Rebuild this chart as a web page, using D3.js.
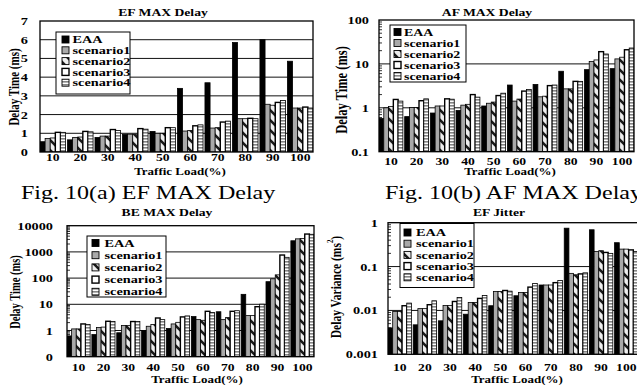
<!DOCTYPE html>
<html><head><meta charset="utf-8">
<script src="https://cdn.jsdelivr.net/npm/d3@7"></script>
<style>body{margin:0;background:#fff}svg{display:block}</style>
</head><body><svg id="c" width="637" height="385"></svg>
<script>
const loads = ["10","20","30","40","50","60","70","80","90","100"];
const seriesNames = ["EAA","scenario1","scenario2","scenario3","scenario4"];
// rows: EAA, scenario1..4 ; columns: traffic load 10..100
const efMaxDelay = [
 [0.55,0.65,0.78,0.95,1.1,3.4,3.7,5.85,6.0,4.85],
 [0.72,0.78,0.85,0.95,1.0,1.12,1.28,1.78,2.55,2.35],
 [0.75,0.8,0.85,0.95,1.0,1.15,1.3,1.78,2.5,2.35],
 [1.05,1.1,1.2,1.25,1.3,1.4,1.6,1.8,2.65,2.4],
 [1.05,1.08,1.15,1.22,1.3,1.45,1.65,1.78,2.75,2.35]
];
const afMaxDelay = [
 [0.57,0.63,0.76,0.87,1.1,3.3,3.4,6.8,7.4,7.8],
 [1.0,1.02,1.1,1.15,1.27,1.42,1.78,2.7,11.3,13],
 [1.07,1.02,1.1,1.2,1.35,1.58,1.84,2.7,12.3,14.2],
 [1.55,1.45,1.6,2.0,1.9,2.4,3.2,4.0,19,21],
 [1.42,1.6,1.57,1.75,2.15,2.6,3.3,4.0,16.8,23]
];
const beMaxDelay = [
 [0.62,0.7,0.82,1.0,1.2,3.4,5.2,24,73,2660],
 [1.15,1.3,1.55,1.45,1.78,2.6,2.6,3.7,94,3150],
 [1.15,1.35,1.55,1.68,2.05,2.45,3.1,3.7,133,3250],
 [1.78,2.25,2.2,3.0,3.3,5.4,5.4,8.1,760,4800],
 [1.68,2.2,2.2,2.6,3.6,4.9,5.7,10.1,620,4700]
];
const efJitter = [
 [0.004,0.0047,0.0058,0.0082,0.0128,0.0216,0.038,0.75,0.69,0.35],
 [0.0095,0.011,0.013,0.0152,0.027,0.0257,0.038,0.07,0.22,0.25],
 [0.0095,0.011,0.013,0.0152,0.027,0.0257,0.038,0.065,0.23,0.25],
 [0.0128,0.0135,0.016,0.0188,0.0285,0.034,0.043,0.068,0.21,0.24],
 [0.0147,0.0166,0.0198,0.022,0.0275,0.041,0.048,0.072,0.2,0.22]
];
const ticksEF = [0,1,2,3,4,5,6,7];
const tickLabelsEF = ["0","1","2","3","4","5","6","7"];
const ticksAF = [0.1,1,10,100];
const tickLabelsAF = ["0.1","1","10","100"];
const ticksBE = [0.1,1,10,100,1000,10000];
const tickLabelsBE = ["0","1","10","100","1000","10000"];
const ticksJit = [0.001,0.01,0.1,1];
const tickLabelsJit = ["0.001","0.01","0.1","1"];
const captions = ["Fig. 10(a) EF MAX Delay","Fig. 10(b) AF MAX Delay"];

const SX = 1.3;
const FONT = "'Liberation Serif','Times New Roman',serif";
const svg = d3.select("#c");
const defs = svg.append("defs");
const p2 = defs.append("pattern").attr("id","ps2").attr("patternUnits","userSpaceOnUse")
  .attr("width",10).attr("height",10);
p2.append("rect").attr("width",10).attr("height",10).attr("fill","#eeeeee");
p2.append("path").attr("d","M-2,-2L12,12M-2,8L2,12M8,-2L12,2").attr("stroke","#1a1a1a").attr("stroke-width",2.6);
const p4 = defs.append("pattern").attr("id","ps4").attr("patternUnits","userSpaceOnUse")
  .attr("width",4).attr("height",3);
p4.append("rect").attr("width",4).attr("height",3).attr("fill","#ffffff");
p4.append("rect").attr("width",4).attr("height",1.6).attr("fill","#858585");
const fills = ["#000000","#a9a9a9","url(#ps2)","#ffffff","url(#ps4)"];
const strokeW = [0.8,0.8,0.8,1.4,0.8];

function stext(g,x,y,str,size,opt={}){
  return g.append("text").attr("transform",`translate(${x},${y}) scale(${SX},1)`)
    .attr("text-anchor",opt.anchor||"middle").attr("font-family",FONT)
    .attr("font-weight",opt.weight||"bold").attr("font-size",size).attr("fill","#000").text(str);
}

function panel(cfg){
  const g = svg.append("g");
  const x0 = d3.scaleBand().domain(loads).range([cfg.l,cfg.r]).paddingInner(0.07).paddingOuter(0);
  const x1 = d3.scaleBand().domain(seriesNames).range([0,x0.bandwidth()]);
  const y = (cfg.log ? d3.scaleLog() : d3.scaleLinear()).domain(cfg.domain).range([cfg.b,cfg.t]);
  g.append("g").selectAll("line").data(cfg.ticks.filter(v=>v>cfg.domain[0]&&v<cfg.domain[1])).join("line")
    .attr("x1",cfg.l).attr("x2",cfg.r).attr("y1",d=>y(d)).attr("y2",d=>y(d))
    .attr("stroke","#111").attr("stroke-width",1);
  const clip = "clip"+cfg.id;
  defs.append("clipPath").attr("id",clip).append("rect").attr("x",cfg.l).attr("y",cfg.t).attr("width",cfg.r-cfg.l).attr("height",cfg.b-cfg.t);
  const bars = g.append("g").attr("clip-path",`url(#${clip})`);
  cfg.data.forEach((row,si)=>{
    bars.append("g").selectAll("rect").data(row).join("rect")
      .attr("x",(d,i)=>x0(loads[i])+x1(seriesNames[si]))
      .attr("width",x1.bandwidth())
      .attr("y",d=>y(d))
      .attr("height",d=>y(cfg.domain[0])-y(d))
      .attr("fill",fills[si]).attr("stroke","#000").attr("stroke-width",strokeW[si]);
  });
  g.append("rect").attr("x",cfg.l).attr("y",cfg.t).attr("width",cfg.r-cfg.l).attr("height",cfg.b-cfg.t)
    .attr("fill","none").attr("stroke","#000").attr("stroke-width",1.3);
  if(cfg.log){
    const minors=[];
    for(let e=Math.log10(cfg.domain[0]); e<Math.log10(cfg.domain[1])-1e-9; e++){
      for(let k=2;k<=9;k++) minors.push(k*Math.pow(10,e));
    }
    g.append("g").selectAll("line").data(minors).join("line")
      .attr("x1",cfg.l).attr("x2",cfg.l+3).attr("y1",d=>y(d)).attr("y2",d=>y(d))
      .attr("stroke","#000").attr("stroke-width",0.8);
  }
  const ya = g.append("g").attr("transform",`translate(${cfg.l},0)`)
    .call(d3.axisLeft(y).tickValues(cfg.ticks).tickFormat((d,i)=>cfg.tickLabels[i]).tickSize(0).tickPadding(cfg.ypad/SX));
  ya.select(".domain").remove();
  ya.attr("font-family",FONT).attr("font-weight","bold").attr("font-size",11);
  ya.selectAll("text").attr("transform",`scale(${SX},1)`);
  const xa = g.append("g").attr("transform",`translate(0,${cfg.b})`)
    .call(d3.axisBottom(x0).tickSize(0).tickPadding(cfg.xpad));
  xa.select(".domain").remove();
  xa.attr("font-family",FONT).attr("font-weight","bold").attr("font-size",10.5);
  xa.selectAll("text").attr("transform",`scale(${SX},1)`);
  stext(g,cfg.titleX,cfg.titleY,cfg.title,10.5);
  stext(g,cfg.xlabX,cfg.xlabY,"Traffic Load(%)",10);
  const yl = g.append("text").attr("transform",`translate(${cfg.ylabX},${cfg.ylabY}) rotate(-90) scale(1,${SX})`)
    .attr("text-anchor","middle").attr("dominant-baseline","central").attr("font-family",FONT)
    .attr("font-weight","bold").attr("font-size",cfg.ylabSize);
  yl.append("tspan").text(cfg.ylab);
  if(cfg.sup){
    yl.append("tspan").attr("baseline-shift","super").attr("font-size",cfg.ylabSize*0.6).text(cfg.sup);
    yl.append("tspan").text(")");
  }
  const L = cfg.leg;
  const lg = g.append("g");
  lg.append("rect").attr("x",L.x).attr("y",L.y).attr("width",L.w).attr("height",L.h)
    .attr("fill","#fff").attr("stroke","#000").attr("stroke-width",1);
  seriesNames.forEach((s,i)=>{
    const cy = L.y0 + i*L.dy;
    lg.append("rect").attr("x",L.sx).attr("y",cy-3.5).attr("width",7).attr("height",7)
      .attr("fill",fills[i]).attr("stroke","#000").attr("stroke-width",i===3?1.4:0.9);
    stext(lg,L.tx,cy+3.6,s,L.fs||11,{anchor:"start"});
  });
}

panel({id:"a",l:40,r:313,t:21,b:152,log:false,domain:[0,7],ticks:ticksEF,tickLabels:tickLabelsEF,
  data:efMaxDelay,ypad:12,xpad:2,title:"EF MAX Delay",titleX:163,titleY:16,xlabX:180,xlabY:175,
  ylab:"Delay Time (ms)",ylabX:15,ylabY:87,ylabSize:11,
  leg:{x:56,y:32,w:74,h:62,y0:39.5,dy:10.8,sx:62,tx:72.5}});
panel({id:"b",l:379,r:634,t:20,b:151.7,log:true,domain:[0.1,100],ticks:ticksAF,tickLabels:tickLabelsAF,
  data:afMaxDelay,ypad:10,xpad:6,title:"AF MAX Delay",titleX:487,titleY:16,xlabX:510,xlabY:175,
  ylab:"Delay Time (ms)",ylabX:341,ylabY:90,ylabSize:12.5,
  leg:{x:390,y:25,w:76,h:57,y0:32,dy:11,sx:394,tx:404,fs:10.7}});
panel({id:"c",l:67,r:314,t:225.7,b:356.7,log:true,domain:[0.1,10000],ticks:ticksBE,tickLabels:tickLabelsBE,
  data:beMaxDelay,ypad:14,xpad:7,title:"BE MAX Delay",titleX:167,titleY:216,xlabX:197,xlabY:383,
  ylab:"Delay Time (ms)",ylabX:16,ylabY:292,ylabSize:10.5,
  leg:{x:87,y:236,w:79,h:61,y0:243,dy:12.2,sx:92,tx:104.5}});
panel({id:"d",l:388,r:638,t:222.7,b:354.3,log:true,domain:[0.001,1],ticks:ticksJit,tickLabels:tickLabelsJit,
  data:efJitter,ypad:10,xpad:9,title:"EF Jitter",titleX:499,titleY:216,xlabX:517,xlabY:383,
  ylab:"Delay Variance (ms",sup:"2",ylabX:335,ylabY:287,ylabSize:11.5,
  leg:{x:400,y:223.5,w:74,h:64,y0:232.5,dy:11.2,sx:404,tx:416}});

stext(svg,21,199,captions[0],18.5,{anchor:"start",weight:"normal"});
stext(svg,385,199,captions[1],18.5,{anchor:"start",weight:"normal"});
</script></body></html>
